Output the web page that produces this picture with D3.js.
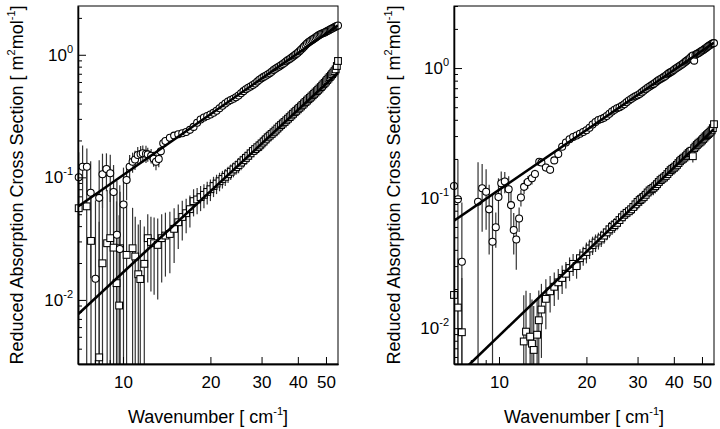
<!DOCTYPE html>
<html><head><meta charset="utf-8">
<script src="https://cdn.jsdelivr.net/npm/d3@7"></script>
<style>body{margin:0;background:#fff}text{white-space:pre}</style>
</head><body><svg id="c" width="720" height="429"></svg>
<script>
// ---------------- data ----------------
const xTickValues = [10, 20, 30, 40, 50];
const xMinorTicks = [8, 9];
const yMajorTicks = [0.01, 0.1, 1];
const yMajorExp = ["-2", "-1", "0"];
const yMinorTicks = [0.003,0.004,0.005,0.006,0.007,0.008,0.009,0.02,0.03,0.04,0.05,0.06,0.07,0.08,0.09,0.2,0.3,0.4,0.5,0.6,0.7,0.8,0.9,2,3];
const xDomain = [7, 55];
const leftYDomain = [0.003, 2.5];
const rightYDomain = [0.0053, 3];

const wnDense = [14,14.5,15,15.5,16,16.5,17,17.5,18,18.5,19,19.5,20,20.5,21,21.5,22,22.5,23,23.5,24,24.5,25,25.5,26,26.5,27,27.5,28,28.5,29,29.5,30,30.5,31,31.5,32,32.5,33,33.5,34,34.5,35,35.5,36,36.5,37,37.5,38,38.5,39,39.5,40,40.5,41,41.5,42,42.5,43,43.5,44,44.5,45,45.5,46,46.5,47,47.5,48,48.5,49,49.5,50,50.5,51,51.5,52,52.5,53,53.5,54,54.5,55];

// left panel, circles
const leftCircleLowWN  = [7.04,7.26,7.51,7.74,8.04,8.28,8.50,8.77,9.04,9.28,9.53,9.75,10.04,10.29,10.54,10.79,11.0,11.24,11.5,11.7,12.0,12.17,12.5,12.75,12.99,13.28,13.5,13.76];
const leftCircleLowVal = [0.100,0.122,0.122,0.075,0.0149,0.068,0.106,0.117,0.108,0.076,0.034,0.026,0.060,0.095,0.122,0.134,0.140,0.152,0.155,0.157,0.156,0.154,0.150,0.142,0.134,0.141,0.163,0.190];
const leftCircleLowErr = [0.06,0.06,0.05,0.06,0.05,0.07,0.05,0.04,0.045,0.05,0.06,0.06,0.06,0.03,0.03,0.025,0.025,0.025,0.025,0.025,0.025,0.02,0.02,0.02,0.02,0.02,0.015,0.015];
const leftCircleDenseVal = [
 0.198,0.210,0.219,0.225,0.229,0.234,0.244,0.258,0.279,0.296,
 0.308,0.316,0.326,0.336,0.350,0.366,0.384,0.401,0.416,0.428,
 0.438,0.450,0.466,0.485,0.505,0.523,0.538,0.551,0.566,0.584,
 0.604,0.625,0.644,0.660,0.674,0.690,0.708,0.728,0.750,0.770,
 0.787,0.803,0.820,0.840,0.862,0.885,0.906,0.925,0.944,0.966,
 0.990,1.015,1.040,1.068,1.098,1.130,1.165,1.200,1.235,1.265,
 1.290,1.312,1.335,1.360,1.385,1.410,1.435,1.455,1.475,1.490,
 1.505,1.520,1.540,1.560,1.580,1.600,1.620,1.640,1.660,1.680,
 1.700,1.715,1.730];
const leftCircleDenseErr = [
 0.014,0.014,0.014,0.014,0.014,0.014,0.014,0.014,0.014,0.014,
 0.014,0.014,0.020,0.020,0.020,0.020,0.020,0.020,0.020,0.020,
 0.020,0.020,0.020,0.020,0.020,0.020,0.020,0.020,0.020,0.020,
 0.020,0.020,0.035,0.035,0.035,0.035,0.035,0.035,0.035,0.035,
 0.035,0.035,0.035,0.035,0.035,0.035,0.035,0.035,0.035,0.035,
 0.035,0.035,0.045,0.045,0.045,0.045,0.045,0.045,0.045,0.045,
 0.045,0.045,0.045,0.045,0.045,0.045,0.045,0.045,0.045,0.045,
 0.045,0.045,0.045,0.045,0.045,0.045,0.045,0.045,0.045,0.045,
 0.045,0.045,0.045];

// left panel, squares
const leftSquareLowWN  = [7.04,7.5,7.76,8.28,8.5,8.82,9.04,9.28,9.5,9.7,9.77,10.29,10.79,11.02,11.29,11.47,11.84,12.17,12.48,12.8,13.17,13.59];
const leftSquareLowVal = [0.056,0.058,0.0303,0.0034,0.0199,0.029,0.0319,0.0267,0.0137,0.009,0.0264,0.0233,0.0264,0.0226,0.0162,0.0148,0.0197,0.0319,0.0297,0.029,0.0281,0.0319];
const leftSquareLowErr = [0.05,0.06,0.05,0.04,0.05,0.05,0.05,0.05,0.05,0.04,0.05,0.04,0.03,0.025,0.025,0.03,0.02,0.018,0.018,0.018,0.018,0.018];
const leftSquareDenseVal = [
 0.0335,0.0345,0.0380,0.0430,0.0475,0.0510,0.0550,0.0640,0.0660,0.0690,
 0.0720,0.0760,0.0800,0.0850,0.0890,0.0930,0.0970,0.1010,0.1060,0.1110,
 0.1160,0.1210,0.1260,0.1320,0.1380,0.1440,0.1500,0.1570,0.1640,0.1700,
 0.1760,0.1820,0.1890,0.1960,0.2040,0.2120,0.2190,0.2260,0.2330,0.2410,
 0.2500,0.2590,0.2670,0.2750,0.2830,0.2920,0.3010,0.3100,0.3200,0.3300,
 0.3400,0.3490,0.3590,0.3690,0.3790,0.3900,0.4010,0.4120,0.4230,0.4340,
 0.4450,0.4560,0.4680,0.4800,0.4920,0.5050,0.5180,0.5310,0.5450,0.5600,
 0.5750,0.5900,0.6060,0.6230,0.6400,0.6580,0.6760,0.6950,0.7150,0.7350,
 0.7600,0.8100,0.8900];
const leftSquareDenseErr = [
 0.018,0.018,0.018,0.017,0.017,0.016,0.016,0.016,0.016,0.016,
 0.016,0.016,0.016,0.016,0.016,0.016,0.016,0.016,0.016,0.016,
 0.016,0.016,0.018,0.018,0.018,0.018,0.018,0.018,0.018,0.018,
 0.022,0.022,0.025,0.025,0.025,0.025,0.025,0.025,0.025,0.025,
 0.030,0.030,0.030,0.030,0.030,0.030,0.030,0.030,0.030,0.030,
 0.040,0.040,0.040,0.040,0.040,0.040,0.040,0.040,0.040,0.040,
 0.050,0.050,0.050,0.050,0.050,0.050,0.050,0.050,0.050,0.050,
 0.060,0.060,0.060,0.060,0.060,0.060,0.060,0.060,0.060,0.060,
 0.060,0.060,0.060];

// right panel, circles
const rightCircleLowWN  = [7.0,7.22,7.45,8.47,8.75,9.03,9.25,9.5,9.75,9.96,10.18,10.47,10.8,11.0,11.24,11.47,11.73,11.9,12.2,12.57,12.99,13.3,13.76];
const rightCircleLowVal = [0.124,0.098,0.0324,0.0937,0.119,0.112,0.0819,0.0461,0.0596,0.102,0.130,0.134,0.117,0.0883,0.0568,0.0481,0.0698,0.101,0.122,0.133,0.142,0.153,0.190];
const rightCircleLowErr = [0.13,0.10,0.06,0.095,0.064,0.055,0.045,0.06,0.018,0.04,0.03,0.025,0.03,0.03,0.02,0.02,0.015,0.015,0.015,0.015,0.015,0.012,0.012];
const rightCircleDenseVal = [
 0.188,0.172,0.165,0.195,0.218,0.248,0.268,0.283,0.295,0.303,
 0.312,0.322,0.333,0.348,0.368,0.385,0.398,0.405,0.414,0.428,
 0.445,0.463,0.478,0.490,0.500,0.512,0.527,0.545,0.562,0.578,
 0.594,0.606,0.618,0.632,0.650,0.668,0.688,0.706,0.721,0.736,
 0.752,0.770,0.790,0.808,0.824,0.838,0.855,0.874,0.895,0.914,
 0.930,0.946,0.966,0.986,1.005,1.024,1.042,1.060,1.080,1.102,
 1.125,1.148,1.170,1.195,1.225,1.250,1.140,1.265,1.285,1.300,
 1.318,1.338,1.358,1.378,1.400,1.422,1.445,1.468,1.490,1.510,
 1.530,1.548,1.555];
const rightCircleDenseErr = [
 0.012,0.012,0.012,0.012,0.012,0.012,0.012,0.012,0.012,0.012,
 0.012,0.012,0.018,0.018,0.018,0.018,0.018,0.018,0.018,0.018,
 0.018,0.018,0.018,0.018,0.018,0.018,0.018,0.018,0.018,0.018,
 0.018,0.018,0.030,0.030,0.030,0.030,0.030,0.030,0.030,0.030,
 0.030,0.030,0.030,0.030,0.030,0.030,0.030,0.030,0.030,0.030,
 0.030,0.030,0.040,0.040,0.040,0.040,0.040,0.040,0.040,0.040,
 0.040,0.040,0.040,0.040,0.040,0.040,0.040,0.040,0.040,0.040,
 0.040,0.040,0.040,0.040,0.040,0.040,0.040,0.040,0.040,0.040,
 0.040,0.040,0.040];

// right panel, squares
const rightSquareLowWN  = [7.0,7.22,7.45,12.17,12.39,12.8,12.99,13.17,13.53,13.71];
const rightSquareLowVal = [0.018,0.0144,0.0093,0.0079,0.0094,0.0086,0.0076,0.0068,0.0089,0.0115];
const rightSquareLowErr = [0.02,0.02,0.015,0.010,0.010,0.010,0.009,0.008,0.008,0.008];
const rightSquareDenseVal = [
 0.0139,0.0168,0.0192,0.0208,0.0225,0.0243,0.0262,0.0290,0.0312,0.0300,
 0.0345,0.0362,0.0385,0.0410,0.0435,0.0455,0.0472,0.0490,0.0515,0.0545,
 0.0575,0.0600,0.0620,0.0645,0.0678,0.0712,0.0745,0.0770,0.0792,0.0820,
 0.0855,0.0895,0.0935,0.0965,0.0990,0.1020,0.1060,0.1105,0.1145,0.1175,
 0.1200,0.1235,0.1280,0.1330,0.1375,0.1410,0.1440,0.1480,0.1530,0.1590,
 0.1640,0.1680,0.1710,0.1750,0.1800,0.1860,0.1920,0.1970,0.2010,0.2050,
 0.2100,0.2160,0.2220,0.2270,0.2310,0.2100,0.2420,0.2490,0.2560,0.2620,
 0.2670,0.2720,0.2780,0.2850,0.2920,0.2990,0.3050,0.3110,0.3170,0.3240,
 0.3320,0.3450,0.3700];
const rightSquareDenseErr = [
 0.008,0.007,0.006,0.006,0.006,0.006,0.006,0.006,0.006,0.006,
 0.006,0.006,0.007,0.007,0.007,0.007,0.007,0.007,0.007,0.007,
 0.008,0.008,0.008,0.008,0.008,0.008,0.008,0.008,0.008,0.008,
 0.010,0.010,0.012,0.012,0.012,0.012,0.012,0.012,0.012,0.012,
 0.015,0.015,0.015,0.015,0.015,0.015,0.015,0.015,0.015,0.015,
 0.018,0.018,0.020,0.020,0.020,0.020,0.020,0.020,0.020,0.020,
 0.022,0.022,0.022,0.022,0.022,0.022,0.022,0.022,0.022,0.022,
 0.025,0.025,0.025,0.025,0.025,0.025,0.025,0.025,0.025,0.025,
 0.025,0.025,0.025];

// power-law fit lines (end points)
const fitWN = [7, 55];
const leftFitCircle  = [0.0578, 1.737];
const leftFitSquare  = [0.00764, 0.7126];
const rightFitCircle = [0.067, 1.570];
const rightFitSquare = [0.00405, 0.340];

// ---------------- drawing ----------------
const FONT = "'Liberation Sans', Arial, Helvetica, sans-serif";
const svg = d3.select("#c");
svg.append("rect").attr("width", 720).attr("height", 429).attr("fill", "#fff");

function buildSeries(lowWN, lowVal, lowErr, denseVal, denseErr) {
  const pts = lowWN.map((w, i) => ({ w, v: lowVal[i], e: lowErr[i] }));
  denseVal.forEach((v, i) => pts.push({ w: wnDense[i], v, e: denseErr[i] }));
  return pts;
}

const panels = [
  { id: "L", x0: 78, x1: 338, y0: 6, y1: 364, yDomain: leftYDomain, titleX: 23,
    circles: buildSeries(leftCircleLowWN, leftCircleLowVal, leftCircleLowErr, leftCircleDenseVal, leftCircleDenseErr),
    squares: buildSeries(leftSquareLowWN, leftSquareLowVal, leftSquareLowErr, leftSquareDenseVal, leftSquareDenseErr),
    fits: [leftFitCircle, leftFitSquare] },
  { id: "R", x0: 454, x1: 714, y0: 6, y1: 364, yDomain: rightYDomain, titleX: 400,
    circles: buildSeries(rightCircleLowWN, rightCircleLowVal, rightCircleLowErr, rightCircleDenseVal, rightCircleDenseErr),
    squares: buildSeries(rightSquareLowWN, rightSquareLowVal, rightSquareLowErr, rightSquareDenseVal, rightSquareDenseErr),
    fits: [rightFitCircle, rightFitSquare] }
];

panels.forEach(p => {
  const x = d3.scaleLog().domain(xDomain).range([p.x0, p.x1]);
  const y = d3.scaleLog().domain(p.yDomain).range([p.y1, p.y0]);
  const [ymin, ymax] = p.yDomain;
  const g = svg.append("g");

  svg.append("clipPath").attr("id", "clip" + p.id)
    .append("rect").attr("x", p.x0).attr("y", p.y0)
    .attr("width", p.x1 - p.x0).attr("height", p.y1 - p.y0);

  const all = p.squares.concat(p.circles);
  // error bars
  g.append("g").attr("clip-path", `url(#clip${p.id})`)
    .selectAll("line").data(all).join("line")
    .attr("x1", d => x(d.w)).attr("x2", d => x(d.w))
    .attr("y1", d => y(Math.max(d.v - d.e, ymin * 0.5)))
    .attr("y2", d => y(Math.min(d.v + d.e, ymax * 2)))
    .attr("stroke", "#333").attr("stroke-width", 1.2);

  // squares
  const s = 6.8;
  g.append("g").selectAll("rect").data(p.squares).join("rect")
    .attr("x", d => x(d.w) - s / 2).attr("y", d => y(d.v) - s / 2)
    .attr("width", s).attr("height", s)
    .attr("fill", "#fff").attr("stroke", "#000").attr("stroke-width", 1.05);

  // circles
  g.append("g").selectAll("circle").data(p.circles).join("circle")
    .attr("cx", d => x(d.w)).attr("cy", d => y(d.v)).attr("r", 3.5)
    .attr("fill", "#fff").attr("stroke", "#000").attr("stroke-width", 1.05);

  // fit lines
  const line = d3.line().x(d => x(d[0])).y(d => y(d[1]));
  p.fits.forEach(f => {
    g.append("path").attr("clip-path", `url(#clip${p.id})`)
      .attr("d", line(fitWN.map((w, i) => [w, f[i]])))
      .attr("fill", "none").attr("stroke", "#000").attr("stroke-width", 2.6);
  });

  // frame
  g.append("rect").attr("x", p.x0).attr("y", p.y0)
    .attr("width", p.x1 - p.x0).attr("height", p.y1 - p.y0)
    .attr("fill", "none").attr("stroke", "#000").attr("stroke-width", 1);

  // x axis
  const xa = g.append("g").attr("transform", `translate(0,${p.y1})`)
    .call(d3.axisBottom(x).tickValues(xTickValues).tickFormat(d3.format("d"))
      .tickSize(-7).tickSizeOuter(0).tickPadding(12));
  const xm = g.append("g").attr("transform", `translate(0,${p.y1})`)
    .call(d3.axisBottom(x).tickValues(xMinorTicks).tickFormat("").tickSize(-4).tickSizeOuter(0));
  // y axis
  const ya = g.append("g").attr("transform", `translate(${p.x0},0)`)
    .call(d3.axisLeft(y).tickValues(yMajorTicks).tickFormat("").tickSize(-8).tickSizeOuter(0).tickPadding(5));
  const ym = g.append("g").attr("transform", `translate(${p.x0},0)`)
    .call(d3.axisLeft(y).tickValues(yMinorTicks.filter(v => v > ymin && v <= ymax)).tickFormat("").tickSize(-4).tickSizeOuter(0));

  [xa, xm, ya, ym].forEach(a => {
    a.select(".domain").attr("stroke", "#000").attr("stroke-width", 1.3);
    a.selectAll(".tick line").attr("stroke", "#000").attr("stroke-width", 1);
    a.attr("font-family", FONT).attr("font-size", 17);
    a.selectAll(".tick text").attr("fill", "#000");
  });

  ya.selectAll(".tick text").each(function (d, i) {
    const t = d3.select(this);
    t.text(null);
    t.append("tspan").text("10");
    t.append("tspan").attr("dy", -8).attr("font-size", 11).text(yMajorExp[i]);
  });

  // x title
  const xt = g.append("text")
    .attr("transform", `translate(${(p.x0 + p.x1) / 2},423)`)
    .attr("text-anchor", "middle").attr("font-family", FONT).attr("font-size", 18).attr("fill", "#000");
  xt.append("tspan").text("Wavenumber [ cm");
  xt.append("tspan").attr("dy", -8).attr("font-size", 11).text("-1");
  xt.append("tspan").attr("dy", 8).text("]");

  // y title
  const yt = g.append("text")
    .attr("transform", `translate(${p.titleX},${(p.y0 + p.y1) / 2}) rotate(-90)`)
    .attr("text-anchor", "middle").attr("font-family", FONT).attr("font-size", 18).attr("fill", "#000");
  yt.append("tspan").text("Reduced Absorption Cross Section [ m");
  yt.append("tspan").attr("dy", -8).attr("font-size", 11).text("2");
  yt.append("tspan").attr("dy", 8).text("mol");
  yt.append("tspan").attr("dy", -8).attr("font-size", 11).text("-1");
  yt.append("tspan").attr("dy", 8).text("]");
});
</script>
</body></html>
